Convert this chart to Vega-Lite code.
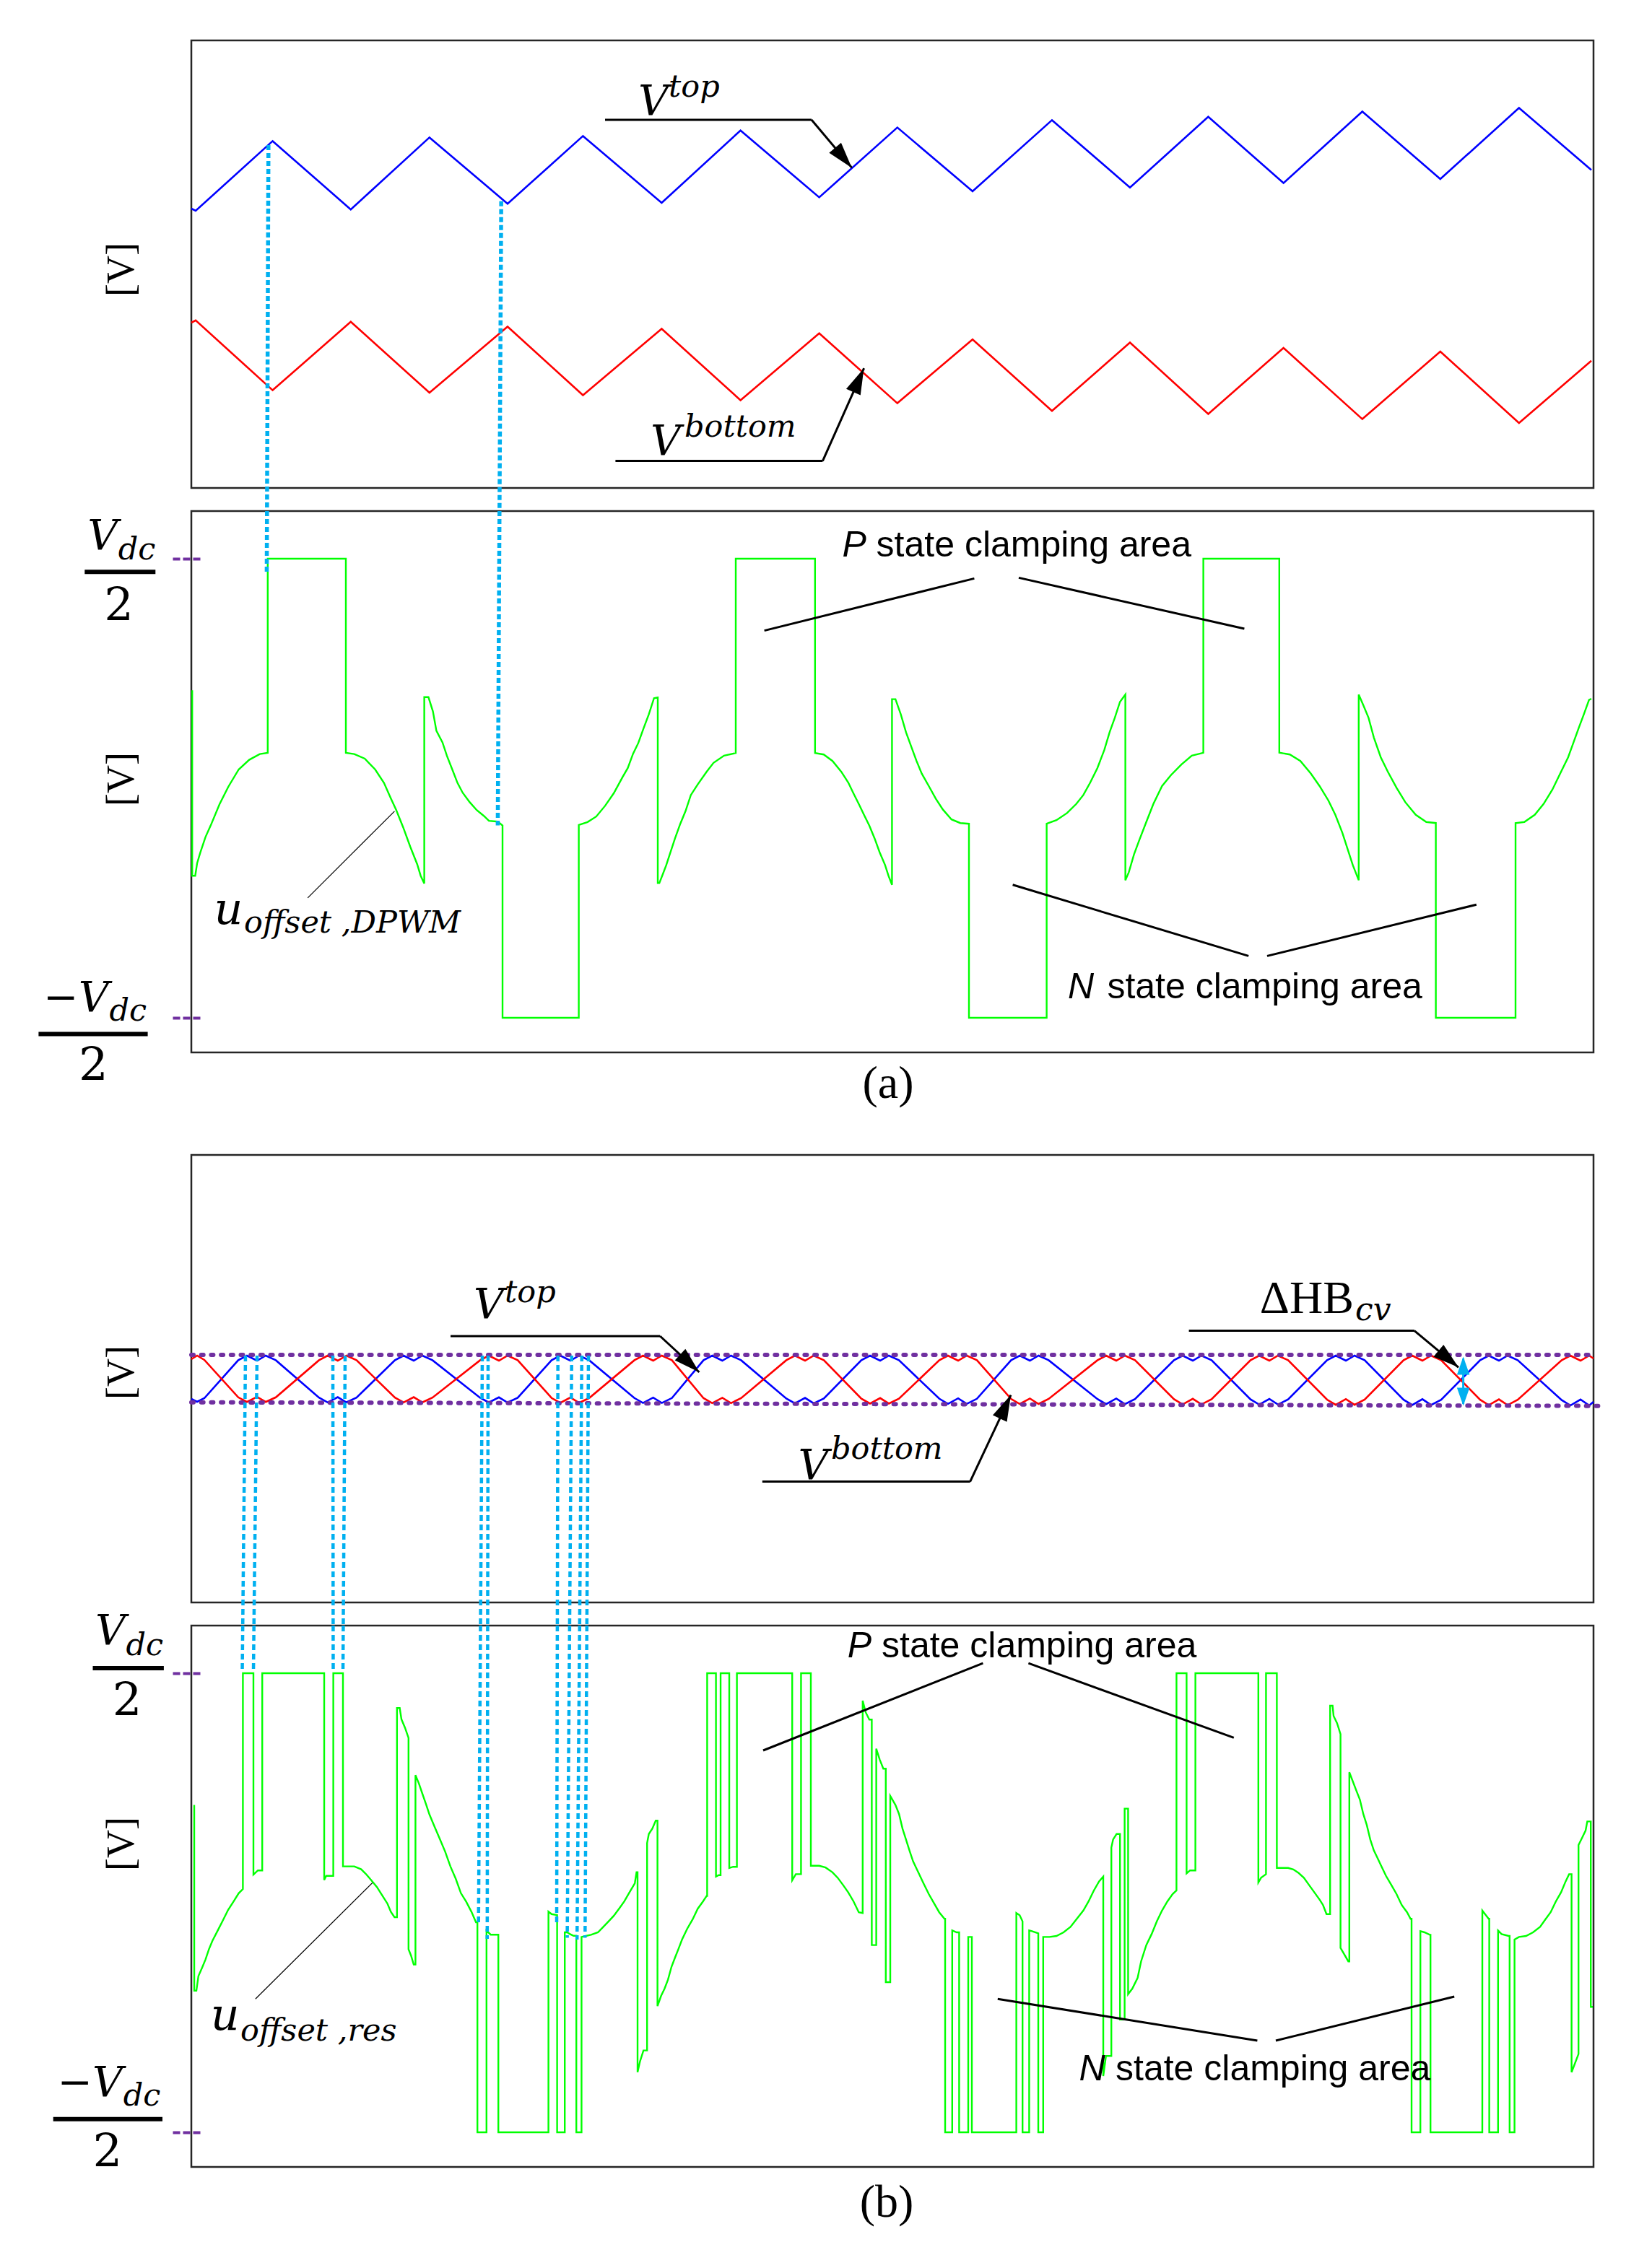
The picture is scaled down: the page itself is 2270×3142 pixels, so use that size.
{
"$schema": "https://vega.github.io/schema/vega-lite/v6.json",
"background": "white",
"padding": {"left": 49, "top": 54, "right": 10, "bottom": 10},
"config": {"view": {"stroke": "#262626", "strokeWidth": 2.5}, "axis": {"grid": false}, "text": {"color": "#000"}},
"spacing": 32,
"bounds": "flush",
"vconcat": [
{
"width": 1942, "height": 620,
"encoding": {
"x": {"field": "t", "type": "quantitative", "scale": {"domain": [0, 971], "nice": false, "zero": false}, "axis": null},
"y": {"field": "v", "type": "quantitative", "scale": {"domain": [-155, 155], "nice": false, "zero": false},
"axis": {"title": "[V]", "ticks": false, "labels": false, "domain": false, "titleX": -97, "titleY": 317, "titleAngle": -90, "titleAlign": "center", "titleBaseline": "middle", "titleFont": "Liberation Serif", "titleFontSize": 54, "titleFontWeight": "normal", "titleColor": "#000"}}
},
"layer": [
{"data": {"values": [
{"t":0,"v":38.5,"s":"top"},{"t":3,"v":37,"s":"top"},{"t":56.3,"v":85.3,"s":"top"},{"t":110.4,"v":37.9,"s":"top"},{"t":164.9,"v":87.8,"s":"top"},{"t":219,"v":41.9,"s":"top"},{"t":271.2,"v":88.8,"s":"top"},{"t":325.7,"v":42.5,"s":"top"},{"t":380.3,"v":92.6,"s":"top"},{"t":434.8,"v":46.3,"s":"top"},{"t":488.9,"v":94.7,"s":"top"},{"t":541,"v":50.5,"s":"top"},{"t":596,"v":99.8,"s":"top"},{"t":650,"v":53.1,"s":"top"},{"t":704.2,"v":102.1,"s":"top"},{"t":756.3,"v":56.2,"s":"top"},{"t":810.9,"v":105.7,"s":"top"},{"t":864.9,"v":59,"s":"top"},{"t":919.4,"v":108.2,"s":"top"},{"t":969.5,"v":65.3,"s":"top"},
{"t":0,"v":-40.5,"s":"bottom"},{"t":3,"v":-38.9,"s":"bottom"},{"t":56.3,"v":-87.3,"s":"bottom"},{"t":110.4,"v":-39.9,"s":"bottom"},{"t":164.9,"v":-89,"s":"bottom"},{"t":219,"v":-43.3,"s":"bottom"},{"t":271.2,"v":-90.7,"s":"bottom"},{"t":325.7,"v":-44.8,"s":"bottom"},{"t":380.3,"v":-94.2,"s":"bottom"},{"t":434.8,"v":-47.9,"s":"bottom"},{"t":488.9,"v":-96.3,"s":"bottom"},{"t":541,"v":-52.1,"s":"bottom"},{"t":596,"v":-101.6,"s":"bottom"},{"t":650,"v":-54.3,"s":"bottom"},{"t":704.2,"v":-103.7,"s":"bottom"},{"t":756.3,"v":-58,"s":"bottom"},{"t":810.9,"v":-107.3,"s":"bottom"},{"t":864.9,"v":-60.5,"s":"bottom"},{"t":919.4,"v":-110,"s":"bottom"},{"t":969.5,"v":-66.9,"s":"bottom"}
]},
"mark": {"type": "line", "strokeWidth": 2.6},
"encoding": {"color": {"field": "s", "type": "nominal", "scale": {"domain": ["top", "bottom"], "range": ["#0000FF", "#FF0000"]}, "legend": null}}},
{"data": {"values": [{"t":53.4,"v":82.5,"t2":52.4,"v2":-171},{"t":214.6,"v":43.6,"t2":213.4,"v2":-171}]},
"mark": {"type": "rule", "color": "#00B0F0", "strokeWidth": 5.5, "strokeDash": [7, 4]},
"encoding": {"x2": {"field": "t2"}, "y2": {"field": "v2"}}},
{"data": {"values": [{"t":286.5,"v":100,"t2":429.5,"v2":100},{"t":429.5,"v":100,"t2":457.4,"v2":66.8},{"t":293.7,"v":-136.3,"t2":437.2,"v2":-136.3},{"t":437.2,"v":-136.3,"t2":465.8,"v2":-72.1}]},
"mark": {"type": "rule", "color": "#000", "strokeWidth": 3},
"encoding": {"x2": {"field": "t2"}, "y2": {"field": "v2"}}},
{"data": {"values": [{"t":451.6,"v":73.7}]},
"mark": {"type": "point", "shape": "M0,-1L0.6,1L-0.6,1Z", "filled": true, "color": "#000", "opacity": 1, "size": 1296, "angle": 140}},
{"data": {"values": [{"t":462.1,"v":-80.3}]},
"mark": {"type": "point", "shape": "M0,-1L0.6,1L-0.6,1Z", "filled": true, "color": "#000", "opacity": 1, "size": 1296, "angle": 24}},
{"data": {"values": [{"t":309.5,"v":103.6,"label":"V"},{"t":318,"v":-132.1,"label":"V"}]},
"mark": {"type": "text", "font": "DejaVu Serif", "fontStyle": "italic", "fontSize": 58, "align": "left", "baseline": "alphabetic"},
"encoding": {"text": {"field": "label"}}},
{"data": {"values": [{"t":330.5,"v":116.2,"label":"top"},{"t":341.5,"v":-119.5,"label":"bottom"}]},
"mark": {"type": "text", "font": "DejaVu Serif", "fontStyle": "italic", "fontSize": 43, "align": "left", "baseline": "alphabetic"},
"encoding": {"text": {"field": "label"}}}
]
},
{
"width": 1942, "height": 750,
"encoding": {
"x": {"field": "t", "type": "quantitative", "scale": {"domain": [0, 971], "nice": false, "zero": false}, "axis": null},
"y": {"field": "v", "type": "quantitative", "scale": {"domain": [-183, 192], "nice": false, "zero": false},
"axis": {"title": "[V]", "values": [-159, 159], "labels": false, "domain": false, "ticks": true, "tickSize": 38, "tickWidth": 4, "tickColor": "#7030A0", "tickDash": [10, 4], "offset": -12, "titleX": -109, "titleY": 371, "titleAngle": -90, "titleAlign": "center", "titleBaseline": "middle", "titleFont": "Liberation Serif", "titleFontSize": 54, "titleFontWeight": "normal", "titleColor": "#000"}}
},
"layer": [
{"data": {"values": [
{"t":0.6,"v":67.9},{"t":0.61,"v":-60.6},{"t":2.7,"v":-60.6},{"t":4,"v":-52},{"t":6.2,"v":-44.6},{"t":9.8,"v":-33.8},{"t":13.4,"v":-25.8},{"t":19.5,"v":-11.1},{"t":25.6,"v":1},{"t":32.8,"v":13},{"t":40.1,"v":19.7},{"t":47.4,"v":23.7},{"t":52.9,"v":24.5},
{"t":52.91,"v":159},{"t":107,"v":159},{"t":107.01,"v":24.5},{"t":112.8,"v":23.7},{"t":120.1,"v":20.5},{"t":127.3,"v":13},{"t":133.4,"v":3.7},{"t":138.2,"v":-7.1},{"t":141.9,"v":-15.1},{"t":146.7,"v":-27.1},{"t":151.6,"v":-40.5},{"t":156.4,"v":-52.6},{"t":158.8,"v":-60.6},{"t":161.3,"v":-66},
{"t":161.31,"v":63.1},{"t":164.2,"v":63.1},{"t":167.3,"v":53.2},{"t":169.7,"v":39.8},{"t":173.9,"v":31.8},{"t":177,"v":22.4},{"t":180.7,"v":13},{"t":184.3,"v":3.7},{"t":187.9,"v":-3.1},{"t":192.8,"v":-9.7},{"t":197.6,"v":-15.1},{"t":202.5,"v":-19.1},{"t":206.1,"v":-22.6},{"t":212.2,"v":-23.1},{"t":215.5,"v":-25.8},
{"t":215.51,"v":-159},{"t":268.3,"v":-159},{"t":268.31,"v":-25.4},{"t":274.4,"v":-23.4},{"t":280.4,"v":-19.6},{"t":286.5,"v":-12.2},{"t":292.5,"v":-3.5},{"t":298.6,"v":7.7},{"t":302.2,"v":13.9},{"t":305.9,"v":23.9},{"t":309.5,"v":31.3},{"t":313.1,"v":41.3},{"t":316.8,"v":51.2},{"t":320.4,"v":62.4},{"t":323,"v":62.9},
{"t":323.01,"v":-65.7},{"t":324.1,"v":-65.7},{"t":326.5,"v":-59.5},{"t":328.9,"v":-53.2},{"t":331.3,"v":-45.8},{"t":335,"v":-34.6},{"t":338.6,"v":-24.6},{"t":342.2,"v":-15.9},{"t":345.9,"v":-4.7},{"t":350.7,"v":2.7},{"t":356.8,"v":11.4},{"t":361.6,"v":17.6},{"t":368.9,"v":22.6},{"t":377,"v":24.4},
{"t":377.01,"v":159},{"t":431.9,"v":159},{"t":431.91,"v":24.4},{"t":437.9,"v":23.4},{"t":444,"v":18.9},{"t":450.1,"v":11.4},{"t":454.9,"v":4},{"t":458.5,"v":-3.5},{"t":462.2,"v":-10.9},{"t":465.8,"v":-18.4},{"t":469.5,"v":-25.9},{"t":473.1,"v":-34.6},{"t":476.7,"v":-44.5},{"t":480.4,"v":-53.2},{"t":482.8,"v":-60.7},{"t":485.2,"v":-66.9},
{"t":485.21,"v":61.7},{"t":487.6,"v":61.7},{"t":491.3,"v":51.2},{"t":494.9,"v":38.8},{"t":498.5,"v":28.9},{"t":502.2,"v":18.9},{"t":505.8,"v":10.2},{"t":510.7,"v":1.5},{"t":515.5,"v":-7.2},{"t":520.4,"v":-14.7},{"t":526.4,"v":-21.6},{"t":532.5,"v":-24.1},{"t":538.5,"v":-24.6},
{"t":538.51,"v":-159},{"t":592.3,"v":-159},{"t":592.31,"v":-24.6},{"t":599.1,"v":-22.1},{"t":606.4,"v":-17.2},{"t":612.8,"v":-10.9},{"t":617.7,"v":-4.7},{"t":622.5,"v":4},{"t":627.4,"v":13.9},{"t":632.2,"v":26.4},{"t":635.9,"v":38.8},{"t":639.5,"v":48.8},{"t":643.1,"v":59.9},{"t":646.8,"v":64.9},
{"t":646.81,"v":-63.7},{"t":649.2,"v":-58.2},{"t":652.8,"v":-45.8},{"t":656.5,"v":-35.8},{"t":661.3,"v":-23.4},{"t":666.2,"v":-10.9},{"t":672.2,"v":1.5},{"t":678.3,"v":9},{"t":685.6,"v":16.4},{"t":692.8,"v":22.6},{"t":700.8,"v":24.6},
{"t":700.81,"v":159},{"t":753.4,"v":159},{"t":753.41,"v":24.6},{"t":760.7,"v":23.4},{"t":768,"v":18.9},{"t":775.2,"v":10.2},{"t":781.3,"v":1.5},{"t":787.4,"v":-8.5},{"t":792.2,"v":-18.4},{"t":797.1,"v":-30.9},{"t":800.7,"v":-42.1},{"t":804.3,"v":-53.2},{"t":808.4,"v":-63.7},
{"t":808.41,"v":64.9},{"t":811.6,"v":57.5},{"t":815.2,"v":48.8},{"t":818.9,"v":35.1},{"t":823.7,"v":21.4},{"t":828.6,"v":11.4},{"t":834.6,"v":0.3},{"t":840.7,"v":-9.7},{"t":847.9,"v":-18.4},{"t":855.2,"v":-23.4},{"t":861.8,"v":-24.1},
{"t":861.81,"v":-159},{"t":917,"v":-159},{"t":917.01,"v":-24.1},{"t":923.1,"v":-23.4},{"t":930.3,"v":-18.4},{"t":936.4,"v":-10.9},{"t":942.5,"v":-1},{"t":948.5,"v":11.4},{"t":953.4,"v":21.4},{"t":957,"v":31.3},{"t":960.6,"v":41.3},{"t":964.3,"v":51.2},{"t":967.9,"v":61.2},{"t":969.5,"v":62}
]},
"mark": {"type": "line", "color": "#00FF00", "strokeWidth": 2.4}},
{"data": {"values": [{"t":52.4,"v":192,"t2":52.2,"v2":148.3},{"t":213.4,"v":192,"t2":212.2,"v2":-25.8}]},
"mark": {"type": "rule", "color": "#00B0F0", "strokeWidth": 5.5, "strokeDash": [7, 4]},
"encoding": {"x2": {"field": "t2"}, "y2": {"field": "v2"}}},
{"data": {"values": [{"t":396.8,"v":109.2,"t2":542.2,"v2":145.3},{"t":573,"v":145.8,"t2":729.2,"v2":110.5},{"t":568.8,"v":-66.9,"t2":732.1,"v2":-116.2},{"t":745,"v":-116.2,"t2":889.9,"v2":-80.6}]},
"mark": {"type": "rule", "color": "#000", "strokeWidth": 3},
"encoding": {"x2": {"field": "t2"}, "y2": {"field": "v2"}}},
{"data": {"values": [{"t":80.6,"v":-75.9,"t2":140.7,"v2":-15.9}]},
"mark": {"type": "rule", "color": "#000", "strokeWidth": 1.2},
"encoding": {"x2": {"field": "t2"}, "y2": {"field": "v2"}}},
{"data": {"values": [{"t":-73.85,"v":149.9,"t2":-24.85,"v2":149.9},{"t":-105.8,"v":-170.2,"t2":-30.2,"v2":-170.2}]},
"mark": {"type": "rule", "color": "#000", "strokeWidth": 6},
"encoding": {"x2": {"field": "t2"}, "y2": {"field": "v2"}}},
{"data": {"values": [{"t":-71.9,"v":165.7,"label":"V"},{"t":-102.45,"v":-154.3,"label":"−V"}]},
"mark": {"type": "text", "font": "DejaVu Serif", "fontStyle": "italic", "fontSize": 58, "align": "left", "baseline": "alphabetic"},
"encoding": {"text": {"field": "label"}}},
{"data": {"values": [{"t":15.8,"v":-94.1,"label":"u"}]},
"mark": {"type": "text", "font": "DejaVu Serif", "fontStyle": "italic", "fontSize": 62, "align": "left", "baseline": "alphabetic"},
"encoding": {"text": {"field": "label"}}},
{"data": {"values": [{"t":-50.6,"v":158.5,"label":"dc"},{"t":-56.8,"v":-161,"label":"dc"},{"t":36.5,"v":-100,"label":"offset ,DPWM"}]},
"mark": {"type": "text", "font": "DejaVu Serif", "fontStyle": "italic", "fontSize": 43, "align": "left", "baseline": "alphabetic"},
"encoding": {"text": {"field": "label"}}},
{"data": {"values": [{"t":-50.2,"v":116.1,"label":"2"},{"t":-67.8,"v":-202.5,"label":"2"}]},
"mark": {"type": "text", "font": "DejaVu Serif", "fontSize": 64, "align": "center", "baseline": "alphabetic"},
"encoding": {"text": {"field": "label"}}},
{"data": {"values": [{"t":450.8,"v":160.7,"label":"P"},{"t":607,"v":-145.3,"label":"N"}]},
"mark": {"type": "text", "font": "Liberation Sans", "fontStyle": "italic", "fontSize": 50, "align": "left", "baseline": "alphabetic"},
"encoding": {"text": {"field": "label"}}},
{"data": {"values": [{"t":474.3,"v":160.7,"label":"state clamping area"},{"t":634.2,"v":-145.3,"label":"state clamping area"}]},
"mark": {"type": "text", "font": "Liberation Sans", "fontSize": 50, "align": "left", "baseline": "alphabetic"},
"encoding": {"text": {"field": "label"}}}
]
},
{
"width": 1942, "height": 78, "view": {"stroke": null},
"data": {"values": [{"t":482.5,"v":0.603,"label":"(a)"}]},
"mark": {"type": "text", "font": "Liberation Serif", "fontSize": 64, "align": "center", "baseline": "alphabetic"},
"encoding": {
"x": {"field": "t", "type": "quantitative", "scale": {"domain": [0, 971], "nice": false, "zero": false}, "axis": null},
"y": {"field": "v", "type": "quantitative", "scale": {"domain": [0, 1], "nice": false, "zero": false}, "axis": null},
"text": {"field": "label"}}
},
{
"width": 1942, "height": 620,
"encoding": {
"x": {"field": "t", "type": "quantitative", "scale": {"domain": [0, 971], "nice": false, "zero": false}, "axis": null},
"y": {"field": "v", "type": "quantitative", "scale": {"domain": [-155, 155], "nice": false, "zero": false},
"axis": {"title": "[V]", "ticks": false, "labels": false, "domain": false, "titleX": -97, "titleY": 301, "titleAngle": -90, "titleAlign": "center", "titleBaseline": "middle", "titleFont": "Liberation Serif", "titleFontSize": 54, "titleFontWeight": "normal", "titleColor": "#000"}}
},
"layer": [
{"data": {"values": [
{"t":0,"v":-14,"s":"top"},{"t":4,"v":-16,"s":"top"},{"t":9,"v":-13.5,"s":"top"},
{"t":32.5,"v":12.8,"s":"top"},{"t":38.5,"v":16,"s":"top"},{"t":45.5,"v":12.5,"s":"top"},{"t":51.5,"v":16,"s":"top"},{"t":58.5,"v":12.8,"s":"top"},
{"t":88.4,"v":-13.1,"s":"top"},{"t":94.4,"v":-16.4,"s":"top"},{"t":101.4,"v":-12.8,"s":"top"},{"t":107.4,"v":-16.4,"s":"top"},{"t":114.4,"v":-13.1,"s":"top"},
{"t":141,"v":12.8,"s":"top"},{"t":147,"v":16,"s":"top"},{"t":154,"v":12.5,"s":"top"},{"t":160,"v":16,"s":"top"},{"t":167,"v":12.8,"s":"top"},
{"t":200,"v":-13.2,"s":"top"},{"t":206,"v":-16.5,"s":"top"},{"t":213,"v":-12.9,"s":"top"},{"t":219,"v":-16.5,"s":"top"},{"t":226,"v":-13.2,"s":"top"},
{"t":249.5,"v":12.8,"s":"top"},{"t":255.5,"v":16,"s":"top"},{"t":262.5,"v":12.5,"s":"top"},{"t":268.5,"v":16,"s":"top"},{"t":275.5,"v":12.8,"s":"top"},
{"t":306.8,"v":-13.4,"s":"top"},{"t":312.8,"v":-16.8,"s":"top"},{"t":319.8,"v":-13.1,"s":"top"},{"t":325.8,"v":-16.8,"s":"top"},{"t":332.8,"v":-13.4,"s":"top"},
{"t":354.7,"v":12.8,"s":"top"},{"t":360.7,"v":16,"s":"top"},{"t":367.7,"v":12.5,"s":"top"},{"t":373.7,"v":16,"s":"top"},{"t":380.7,"v":12.8,"s":"top"},
{"t":412,"v":-13.7,"s":"top"},{"t":418,"v":-17.1,"s":"top"},{"t":425,"v":-13.3,"s":"top"},{"t":431,"v":-17.1,"s":"top"},{"t":438,"v":-13.7,"s":"top"},
{"t":464,"v":12.8,"s":"top"},{"t":470,"v":16,"s":"top"},{"t":477,"v":12.5,"s":"top"},{"t":483,"v":16,"s":"top"},{"t":490,"v":12.8,"s":"top"},
{"t":518,"v":-13.9,"s":"top"},{"t":524,"v":-17.4,"s":"top"},{"t":531,"v":-13.6,"s":"top"},{"t":537,"v":-17.4,"s":"top"},{"t":544,"v":-13.9,"s":"top"},
{"t":567.7,"v":12.8,"s":"top"},{"t":573.7,"v":16,"s":"top"},{"t":580.7,"v":12.5,"s":"top"},{"t":586.7,"v":16,"s":"top"},{"t":593.7,"v":12.8,"s":"top"},
{"t":627.5,"v":-14.1,"s":"top"},{"t":633.5,"v":-17.6,"s":"top"},{"t":640.5,"v":-13.7,"s":"top"},{"t":646.5,"v":-17.6,"s":"top"},{"t":653.5,"v":-14.1,"s":"top"},
{"t":680.5,"v":12.8,"s":"top"},{"t":686.5,"v":16,"s":"top"},{"t":693.5,"v":12.5,"s":"top"},{"t":699.5,"v":16,"s":"top"},{"t":706.5,"v":12.8,"s":"top"},
{"t":733.5,"v":-14.3,"s":"top"},{"t":739.5,"v":-17.9,"s":"top"},{"t":746.5,"v":-14,"s":"top"},{"t":752.5,"v":-17.9,"s":"top"},{"t":759.5,"v":-14.3,"s":"top"},
{"t":786.5,"v":12.8,"s":"top"},{"t":792.5,"v":16,"s":"top"},{"t":799.5,"v":12.5,"s":"top"},{"t":805.5,"v":16,"s":"top"},{"t":812.5,"v":12.8,"s":"top"},
{"t":839.5,"v":-14.6,"s":"top"},{"t":845.5,"v":-18.2,"s":"top"},{"t":852.5,"v":-14.2,"s":"top"},{"t":858.5,"v":-18.2,"s":"top"},{"t":865.5,"v":-14.6,"s":"top"},
{"t":892.5,"v":12.8,"s":"top"},{"t":898.5,"v":16,"s":"top"},{"t":905.5,"v":12.5,"s":"top"},{"t":911.5,"v":16,"s":"top"},{"t":918.5,"v":12.8,"s":"top"},
{"t":949,"v":-14.8,"s":"top"},{"t":955,"v":-18.5,"s":"top"},{"t":962,"v":-14.4,"s":"top"},{"t":968,"v":-18.5,"s":"top"},{"t":971,"v":-16,"s":"top"},
{"t":0,"v":13.5,"s":"bottom"},{"t":4,"v":16,"s":"bottom"},{"t":9,"v":13,"s":"bottom"},
{"t":32.5,"v":-12.9,"s":"bottom"},{"t":38.5,"v":-16.1,"s":"bottom"},{"t":45.5,"v":-12.6,"s":"bottom"},{"t":51.5,"v":-16.1,"s":"bottom"},{"t":58.5,"v":-12.9,"s":"bottom"},
{"t":88.4,"v":12.8,"s":"bottom"},{"t":94.4,"v":16,"s":"bottom"},{"t":101.4,"v":12.5,"s":"bottom"},{"t":107.4,"v":16,"s":"bottom"},{"t":114.4,"v":12.8,"s":"bottom"},
{"t":141,"v":-13.1,"s":"bottom"},{"t":147,"v":-16.4,"s":"bottom"},{"t":154,"v":-12.8,"s":"bottom"},{"t":160,"v":-16.4,"s":"bottom"},{"t":167,"v":-13.1,"s":"bottom"},
{"t":200,"v":12.8,"s":"bottom"},{"t":206,"v":16,"s":"bottom"},{"t":213,"v":12.5,"s":"bottom"},{"t":219,"v":16,"s":"bottom"},{"t":226,"v":12.8,"s":"bottom"},
{"t":249.5,"v":-13.4,"s":"bottom"},{"t":255.5,"v":-16.7,"s":"bottom"},{"t":262.5,"v":-13,"s":"bottom"},{"t":268.5,"v":-16.7,"s":"bottom"},{"t":275.5,"v":-13.4,"s":"bottom"},
{"t":306.8,"v":12.8,"s":"bottom"},{"t":312.8,"v":16,"s":"bottom"},{"t":319.8,"v":12.5,"s":"bottom"},{"t":325.8,"v":16,"s":"bottom"},{"t":332.8,"v":12.8,"s":"bottom"},
{"t":354.7,"v":-13.5,"s":"bottom"},{"t":360.7,"v":-16.9,"s":"bottom"},{"t":367.7,"v":-13.2,"s":"bottom"},{"t":373.7,"v":-16.9,"s":"bottom"},{"t":380.7,"v":-13.5,"s":"bottom"},
{"t":412,"v":12.8,"s":"bottom"},{"t":418,"v":16,"s":"bottom"},{"t":425,"v":12.5,"s":"bottom"},{"t":431,"v":16,"s":"bottom"},{"t":438,"v":12.8,"s":"bottom"},
{"t":464,"v":-13.8,"s":"bottom"},{"t":470,"v":-17.2,"s":"bottom"},{"t":477,"v":-13.4,"s":"bottom"},{"t":483,"v":-17.2,"s":"bottom"},{"t":490,"v":-13.8,"s":"bottom"},
{"t":518,"v":12.8,"s":"bottom"},{"t":524,"v":16,"s":"bottom"},{"t":531,"v":12.5,"s":"bottom"},{"t":537,"v":16,"s":"bottom"},{"t":544,"v":12.8,"s":"bottom"},
{"t":567.7,"v":-14,"s":"bottom"},{"t":573.7,"v":-17.5,"s":"bottom"},{"t":580.7,"v":-13.7,"s":"bottom"},{"t":586.7,"v":-17.5,"s":"bottom"},{"t":593.7,"v":-14,"s":"bottom"},
{"t":627.5,"v":12.8,"s":"bottom"},{"t":633.5,"v":16,"s":"bottom"},{"t":640.5,"v":12.5,"s":"bottom"},{"t":646.5,"v":16,"s":"bottom"},{"t":653.5,"v":12.8,"s":"bottom"},
{"t":680.5,"v":-14.2,"s":"bottom"},{"t":686.5,"v":-17.8,"s":"bottom"},{"t":693.5,"v":-13.9,"s":"bottom"},{"t":699.5,"v":-17.8,"s":"bottom"},{"t":706.5,"v":-14.2,"s":"bottom"},
{"t":733.5,"v":12.8,"s":"bottom"},{"t":739.5,"v":16,"s":"bottom"},{"t":746.5,"v":12.5,"s":"bottom"},{"t":752.5,"v":16,"s":"bottom"},{"t":759.5,"v":12.8,"s":"bottom"},
{"t":786.5,"v":-14.5,"s":"bottom"},{"t":792.5,"v":-18.1,"s":"bottom"},{"t":799.5,"v":-14.1,"s":"bottom"},{"t":805.5,"v":-18.1,"s":"bottom"},{"t":812.5,"v":-14.5,"s":"bottom"},
{"t":839.5,"v":12.8,"s":"bottom"},{"t":845.5,"v":16,"s":"bottom"},{"t":852.5,"v":12.5,"s":"bottom"},{"t":858.5,"v":16,"s":"bottom"},{"t":865.5,"v":12.8,"s":"bottom"},
{"t":892.5,"v":-14.6,"s":"bottom"},{"t":898.5,"v":-18.3,"s":"bottom"},{"t":905.5,"v":-14.3,"s":"bottom"},{"t":911.5,"v":-18.3,"s":"bottom"},{"t":918.5,"v":-14.6,"s":"bottom"},
{"t":949,"v":12.8,"s":"bottom"},{"t":955,"v":16,"s":"bottom"},{"t":962,"v":12.5,"s":"bottom"},{"t":968,"v":16,"s":"bottom"},{"t":971,"v":14,"s":"bottom"}
]},
"mark": {"type": "line", "strokeWidth": 2.6},
"encoding": {"color": {"field": "s", "type": "nominal", "scale": {"domain": ["top", "bottom"], "range": ["#0000FF", "#FF0000"]}, "legend": null}}},
{"data": {"values": [{"t":0,"v":16.5,"t2":972,"v2":16.5},{"t":0,"v":-16.35,"t2":977,"v2":-18.85}]},
"mark": {"type": "rule", "color": "#7030A0", "strokeWidth": 6, "strokeDash": [3, 10.7], "strokeCap": "round"},
"encoding": {"x2": {"field": "t2"}, "y2": {"field": "v2"}}},
{"data": {"values": [{"t":37.5,"v":16,"t2":35.6,"v2":-171},{"t":45.5,"v":16,"t2":43.35,"v2":-171},{"t":98,"v":16,"t2":98.2,"v2":-171},{"t":106.5,"v":16,"t2":105.2,"v2":-171},{"t":201.5,"v":16,"t2":200.25,"v2":-171},{"t":205.5,"v":16,"t2":205.2,"v2":-171},{"t":253.85,"v":16,"t2":253.45,"v2":-171},{"t":263.4,"v":16,"t2":261.95,"v2":-171},{"t":270.4,"v":16,"t2":268.9,"v2":-171},{"t":275,"v":16,"t2":273.9,"v2":-171}]},
"mark": {"type": "rule", "color": "#00B0F0", "strokeWidth": 4.5, "strokeDash": [8, 5]},
"encoding": {"x2": {"field": "t2"}, "y2": {"field": "v2"}}},
{"data": {"values": [{"t":179.5,"v":29.5,"t2":324.6,"v2":29.5},{"t":324.6,"v":29.5,"t2":351.7,"v2":4.5},{"t":395.4,"v":-71.3,"t2":539.3,"v2":-71.3},{"t":539.3,"v":-71.3,"t2":567.5,"v2":-11.3},{"t":690.8,"v":33.2,"t2":847,"v2":33.2},{"t":847,"v":33.2,"t2":877.5,"v2":7.8}]},
"mark": {"type": "rule", "color": "#000", "strokeWidth": 3},
"encoding": {"x2": {"field": "t2"}, "y2": {"field": "v2"}}},
{"data": {"values": [{"t":345.1,"v":10.6}]},
"mark": {"type": "point", "shape": "M0,-1L0.6,1L-0.6,1Z", "filled": true, "color": "#000", "opacity": 1, "size": 1296, "angle": 132.7}},
{"data": {"values": [{"t":563.7,"v":-19.4}]},
"mark": {"type": "point", "shape": "M0,-1L0.6,1L-0.6,1Z", "filled": true, "color": "#000", "opacity": 1, "size": 1296, "angle": 25.2}},
{"data": {"values": [{"t":870.6,"v":13.6}]},
"mark": {"type": "point", "shape": "M0,-1L0.6,1L-0.6,1Z", "filled": true, "color": "#000", "opacity": 1, "size": 1296, "angle": 129.8}},
{"data": {"values": [{"t":880.8,"v":14,"t2":880.8,"v2":-17.5}]},
"mark": {"type": "rule", "color": "#00B0F0", "strokeWidth": 3},
"encoding": {"x2": {"field": "t2"}, "y2": {"field": "v2"}}},
{"data": {"values": [{"t":880.8,"v":9.05}]},
"mark": {"type": "point", "shape": "M0,-1L0.7,1L-0.7,1Z", "filled": true, "color": "#00B0F0", "opacity": 1, "size": 625, "angle": 0}},
{"data": {"values": [{"t":880.8,"v":-12.55}]},
"mark": {"type": "point", "shape": "M0,-1L0.7,1L-0.7,1Z", "filled": true, "color": "#00B0F0", "opacity": 1, "size": 625, "angle": 180}},
{"data": {"values": [{"t":195.5,"v":42,"label":"V"},{"t":420.3,"v":-69.7,"label":"V"}]},
"mark": {"type": "text", "font": "DejaVu Serif", "fontStyle": "italic", "fontSize": 58, "align": "left", "baseline": "alphabetic"},
"encoding": {"text": {"field": "label"}}},
{"data": {"values": [{"t":217,"v":52.8,"label":"top"},{"t":443,"v":-55.5,"label":"bottom"}]},
"mark": {"type": "text", "font": "DejaVu Serif", "fontStyle": "italic", "fontSize": 43, "align": "left", "baseline": "alphabetic"},
"encoding": {"text": {"field": "label"}}},
{"data": {"values": [{"t":739.9,"v":45.3,"label":"ΔHB"}]},
"mark": {"type": "text", "font": "Liberation Serif", "fontSize": 64, "align": "left", "baseline": "alphabetic"},
"encoding": {"text": {"field": "label"}}},
{"data": {"values": [{"t":806,"v":40.3,"label":"cv"}]},
"mark": {"type": "text", "font": "DejaVu Serif", "fontStyle": "italic", "fontSize": 44, "align": "left", "baseline": "alphabetic"},
"encoding": {"text": {"field": "label"}}}
]
},
{
"width": 1942, "height": 750,
"encoding": {
"x": {"field": "t", "type": "quantitative", "scale": {"domain": [0, 971], "nice": false, "zero": false}, "axis": null},
"y": {"field": "v", "type": "quantitative", "scale": {"domain": [-183, 192], "nice": false, "zero": false},
"axis": {"title": "[V]", "values": [-159, 159], "labels": false, "domain": false, "ticks": true, "tickSize": 38, "tickWidth": 4, "tickColor": "#7030A0", "tickDash": [10, 4], "offset": -12, "titleX": -109, "titleY": 302, "titleAngle": -90, "titleAlign": "center", "titleBaseline": "middle", "titleFont": "Liberation Serif", "titleFontSize": 54, "titleFontWeight": "normal", "titleColor": "#000"}}
},
"layer": [
{"data": {"values": [
{"t":2,"v":67.7},{"t":2.01,"v":-60.9},{"t":3.5,"v":-60.9},{"t":4.9,"v":-50.8},{"t":7.4,"v":-45.1},{"t":9.8,"v":-39.3},{"t":12.2,"v":-32.2},{"t":14.6,"v":-26.4},{"t":18.3,"v":-19.2},{"t":21.9,"v":-12.1},{"t":25.5,"v":-4.9},{"t":29.2,"v":0.8},{"t":32.8,"v":6.6},{"t":35.7,"v":9.5},
{"t":35.71,"v":159},{"t":43,"v":159},{"t":43.01,"v":19.5},{"t":46.1,"v":22.4},{"t":49.1,"v":22.4},
{"t":49.11,"v":159},{"t":92,"v":159},{"t":92.01,"v":15.8},{"t":93.4,"v":18.6},{"t":98.3,"v":18.6},
{"t":98.31,"v":159},{"t":105,"v":159},{"t":105.01,"v":25.2},{"t":112.8,"v":25.2},{"t":117.6,"v":23.2},{"t":121.3,"v":19.5},{"t":124.9,"v":15.2},{"t":128.5,"v":10.9},{"t":132.2,"v":5.1},{"t":135.8,"v":-0.6},{"t":138.2,"v":-6.3},{"t":140.7,"v":-10},{"t":142.4,"v":-10},
{"t":142.41,"v":134.9},{"t":144.3,"v":134.9},{"t":145.5,"v":127.1},{"t":147.9,"v":121.4},{"t":150.4,"v":114.2},
{"t":150.41,"v":-32.2},{"t":152.1,"v":-36.5},{"t":154,"v":-42.8},{"t":155.2,"v":-42.8},
{"t":155.21,"v":88.4},{"t":157.6,"v":82.6},{"t":160,"v":75.5},{"t":162.5,"v":68.3},{"t":164.9,"v":61.1},{"t":168.5,"v":52.5},{"t":172.2,"v":43.9},{"t":175.8,"v":35.3},{"t":179.4,"v":25.2},{"t":183.1,"v":16.6},{"t":186.7,"v":6.6},{"t":190.3,"v":0.8},{"t":194,"v":-6.3},{"t":197.1,"v":-13.5},{"t":198.1,"v":-13.5},
{"t":198.11,"v":-159},{"t":204.4,"v":-159},{"t":204.41,"v":-19.3},{"t":207.3,"v":-22.1},{"t":212.6,"v":-22.1},
{"t":212.61,"v":-159},{"t":247.3,"v":-159},{"t":247.31,"v":-6.1},{"t":249.5,"v":-7.9},{"t":253.3,"v":-8.5},
{"t":253.31,"v":-159},{"t":258.6,"v":-159},{"t":258.61,"v":-20.5},{"t":260.3,"v":-20.5},{"t":262.2,"v":-21.7},{"t":264.7,"v":-22.9},{"t":266.6,"v":-22.9},
{"t":266.61,"v":-159},{"t":270.2,"v":-159},{"t":270.21,"v":-23.7},{"t":273.1,"v":-23},{"t":276.8,"v":-22.2},{"t":281.6,"v":-20.5},{"t":285.3,"v":-16.7},{"t":288.9,"v":-12.9},{"t":292.5,"v":-9.1},{"t":296.2,"v":-4.1},{"t":299.8,"v":0.9},{"t":303.4,"v":7.2},{"t":307.1,"v":13.5},{"t":308.3,"v":21.1},{"t":309,"v":21.1},
{"t":309.01,"v":-117.4},{"t":310.7,"v":-109.9},{"t":313.1,"v":-102.3},{"t":315.6,"v":-102.3},
{"t":315.61,"v":41.3},{"t":316.8,"v":47.6},{"t":319.2,"v":51.3},{"t":321.6,"v":56.9},{"t":322.8,"v":56.9},
{"t":322.81,"v":-71.6},{"t":325.3,"v":-64.5},{"t":327.7,"v":-59.5},{"t":330.1,"v":-53.2},{"t":332.5,"v":-44.4},{"t":334.9,"v":-38.1},{"t":337.4,"v":-31.8},{"t":339.8,"v":-25.5},{"t":343.4,"v":-18},{"t":347.1,"v":-11.6},{"t":350.7,"v":-4.1},{"t":354.3,"v":0.9},{"t":356.8,"v":4.7},{"t":357.2,"v":4.7},
{"t":357.21,"v":159},{"t":363.3,"v":159},{"t":363.31,"v":18.1},{"t":365.2,"v":19.1},{"t":366.5,"v":19.1},
{"t":366.51,"v":159},{"t":372.5,"v":159},{"t":372.51,"v":24.1},{"t":375.2,"v":24.9},{"t":377.8,"v":24.9},
{"t":377.81,"v":159},{"t":416.1,"v":159},{"t":416.11,"v":15.6},{"t":418.6,"v":19.8},{"t":422.2,"v":19.8},
{"t":422.21,"v":159},{"t":429,"v":159},{"t":429.01,"v":25.6},{"t":434.8,"v":25.6},{"t":439.2,"v":24.4},{"t":444,"v":21.1},{"t":447.6,"v":17.3},{"t":451.3,"v":12.3},{"t":454.9,"v":7.2},{"t":458.6,"v":0.9},{"t":462.2,"v":-6.6},{"t":464.9,"v":-7.1},
{"t":464.91,"v":140},{"t":467,"v":131.9},{"t":469.5,"v":126.9},{"t":471.2,"v":126.9},
{"t":471.21,"v":-29.3},{"t":474.3,"v":-29.3},
{"t":474.31,"v":106.7},{"t":476.7,"v":99.2},{"t":479.2,"v":92.9},{"t":480.9,"v":92.9},
{"t":480.91,"v":-55},{"t":484,"v":-55},
{"t":484.01,"v":74},{"t":487.6,"v":67.7},{"t":490.1,"v":61.4},{"t":492.5,"v":51.3},{"t":494.9,"v":43.8},{"t":497.3,"v":36.2},{"t":499.8,"v":28.7},{"t":503.4,"v":21.1},{"t":507,"v":13.5},{"t":510.7,"v":6},{"t":514.3,"v":-0.3},{"t":517.9,"v":-6.6},{"t":521.6,"v":-11.1},{"t":522,"v":-11.1},
{"t":522.01,"v":-159},{"t":526.9,"v":-159},{"t":526.91,"v":-19.2},{"t":530,"v":-20.5},{"t":531.7,"v":-20.5},
{"t":531.71,"v":-159},{"t":538,"v":-159},{"t":538.01,"v":-23.7},{"t":540.5,"v":-23.7},
{"t":540.51,"v":-159},{"t":571.3,"v":-159},{"t":571.31,"v":-7.1},{"t":573.6,"v":-8.6},{"t":575.6,"v":-12.9},
{"t":575.61,"v":-159},{"t":580.2,"v":-159},{"t":580.21,"v":-19.2},{"t":582.1,"v":-19.7},{"t":586.5,"v":-21.2},
{"t":586.51,"v":-159},{"t":589.9,"v":-159},{"t":589.91,"v":-23.7},{"t":594.3,"v":-23.7},{"t":599.1,"v":-23},{"t":604,"v":-20.5},{"t":608.8,"v":-16.7},{"t":612.8,"v":-11.6},{"t":617.7,"v":-5.4},{"t":621.3,"v":0.9},{"t":625,"v":8.5},{"t":628.6,"v":14.8},{"t":631.5,"v":18.1},
{"t":631.51,"v":-120},{"t":633.4,"v":-106.1},{"t":637.1,"v":-106.1},
{"t":637.11,"v":38.2},{"t":638.3,"v":43.8},{"t":640.7,"v":47.6},{"t":643.1,"v":47.6},
{"t":643.11,"v":-80.9},{"t":646.3,"v":-80.9},
{"t":646.31,"v":65.2},{"t":648.7,"v":65.2},
{"t":648.71,"v":-63.3},{"t":651.6,"v":-59.5},{"t":655.3,"v":-52},{"t":657.7,"v":-40.6},{"t":661.3,"v":-29.3},{"t":665,"v":-21.7},{"t":668.6,"v":-12.9},{"t":672.2,"v":-5.4},{"t":675.9,"v":0.9},{"t":679.5,"v":6},{"t":682.2,"v":8.5},
{"t":682.21,"v":159},{"t":689.2,"v":159},{"t":689.21,"v":20.3},{"t":691.6,"v":22.4},{"t":695.3,"v":22.4},
{"t":695.31,"v":159},{"t":738.9,"v":159},{"t":738.91,"v":14.1},{"t":740.8,"v":17.3},{"t":744.2,"v":19.8},
{"t":744.21,"v":159},{"t":751.7,"v":159},{"t":751.71,"v":24.1},{"t":759.5,"v":24.1},{"t":763.1,"v":23.1},{"t":766.8,"v":20.6},{"t":770.4,"v":17.3},{"t":774,"v":12.3},{"t":777.7,"v":7.2},{"t":781.3,"v":2.2},{"t":783.7,"v":-1.6},{"t":786.1,"v":-7.9},{"t":788.6,"v":-7.9},
{"t":788.61,"v":136.5},{"t":790.3,"v":136.5},{"t":791,"v":129.4},{"t":793.4,"v":124.4},{"t":795.8,"v":116.8},
{"t":795.81,"v":-31.3},{"t":798.3,"v":-35.6},{"t":801.2,"v":-40.6},{"t":801.9,"v":-40.6},
{"t":801.91,"v":90.4},{"t":804.3,"v":84.1},{"t":806.7,"v":77.8},{"t":809.2,"v":71.5},{"t":811.6,"v":61.4},{"t":814,"v":53.8},{"t":816.4,"v":43.8},{"t":818.9,"v":36.2},{"t":821.3,"v":31.2},{"t":823.7,"v":26.1},{"t":827.3,"v":18.6},{"t":831,"v":12.3},{"t":834.6,"v":6},{"t":838.2,"v":-1.6},{"t":841.9,"v":-6.6},{"t":844.3,"v":-11.1},{"t":845,"v":-11.1},
{"t":845.01,"v":-159},{"t":851.1,"v":-159},{"t":851.11,"v":-19.7},{"t":854,"v":-20.5},{"t":857.6,"v":-22.2},{"t":858.1,"v":-22.2},
{"t":858.11,"v":-159},{"t":894,"v":-159},{"t":894.01,"v":-5.4},{"t":895.9,"v":-7.9},{"t":898.4,"v":-11.1},{"t":898.8,"v":-11.1},
{"t":898.81,"v":-159},{"t":904.9,"v":-159},{"t":904.91,"v":-19.2},{"t":907.3,"v":-21.7},{"t":912.2,"v":-23},{"t":912.9,"v":-23},
{"t":912.91,"v":-159},{"t":916.3,"v":-159},{"t":916.31,"v":-25.5},{"t":919.4,"v":-23.7},{"t":924.3,"v":-23},{"t":929.1,"v":-20.5},{"t":934,"v":-16.7},{"t":937.6,"v":-11.6},{"t":941.3,"v":-6.6},{"t":944.9,"v":0.9},{"t":948.5,"v":7.2},{"t":951.7,"v":14.8},{"t":954.1,"v":19.8},{"t":955.8,"v":19.8},
{"t":955.81,"v":-117.4},{"t":958.2,"v":-111.1},{"t":960.6,"v":-104.8},
{"t":960.61,"v":40},{"t":963.1,"v":45},{"t":965.5,"v":50},{"t":966.7,"v":56.3},{"t":969.1,"v":56.3},
{"t":969.11,"v":-72.1},{"t":970.5,"v":-72.1}
]},
"mark": {"type": "line", "color": "#00FF00", "strokeWidth": 2.4}},
{"data": {"values": [{"t":35.6,"v":192,"t2":35.25,"v2":159.5},{"t":43.35,"v":192,"t2":43,"v2":159.5},{"t":98.2,"v":192,"t2":98.25,"v2":159.5},{"t":105.2,"v":192,"t2":105,"v2":159.5},{"t":200.25,"v":192,"t2":198.85,"v2":-15},{"t":205.2,"v":192,"t2":204.9,"v2":-25},{"t":253.45,"v":192,"t2":253,"v2":-14},{"t":261.95,"v":192,"t2":260.3,"v2":-24.25},{"t":268.9,"v":192,"t2":267.1,"v2":-25.5},{"t":273.9,"v":192,"t2":272.65,"v2":-24.25}]},
"mark": {"type": "rule", "color": "#00B0F0", "strokeWidth": 4.5, "strokeDash": [8, 5]},
"encoding": {"x2": {"field": "t2"}, "y2": {"field": "v2"}}},
{"data": {"values": [{"t":396,"v":105.5,"t2":548.2,"v2":165.9},{"t":579.7,"v":165.9,"t2":721.9,"v2":114.3},{"t":558.4,"v":-66.6,"t2":738.2,"v2":-95.5},{"t":751,"v":-95.5,"t2":874.6,"v2":-65}]},
"mark": {"type": "rule", "color": "#000", "strokeWidth": 3},
"encoding": {"x2": {"field": "t2"}, "y2": {"field": "v2"}}},
{"data": {"values": [{"t":44.4,"v":-66.6,"t2":125.4,"v2":13.8}]},
"mark": {"type": "rule", "color": "#000", "strokeWidth": 1.2},
"encoding": {"x2": {"field": "t2"}, "y2": {"field": "v2"}}},
{"data": {"values": [{"t":-68.25,"v":162.5,"t2":-19.05,"v2":162.5},{"t":-95.65,"v":-149.9,"t2":-20,"v2":-149.9}]},
"mark": {"type": "rule", "color": "#000", "strokeWidth": 6},
"encoding": {"x2": {"field": "t2"}, "y2": {"field": "v2"}}},
{"data": {"values": [{"t":-66.55,"v":178.8,"label":"V"},{"t":-92.75,"v":-134.1,"label":"−V"}]},
"mark": {"type": "text", "font": "DejaVu Serif", "fontStyle": "italic", "fontSize": 58, "align": "left", "baseline": "alphabetic"},
"encoding": {"text": {"field": "label"}}},
{"data": {"values": [{"t":13.4,"v":-88.1,"label":"u"}]},
"mark": {"type": "text", "font": "DejaVu Serif", "fontStyle": "italic", "fontSize": 62, "align": "left", "baseline": "alphabetic"},
"encoding": {"text": {"field": "label"}}},
{"data": {"values": [{"t":-45.3,"v":171.6,"label":"dc"},{"t":-47.1,"v":-140.4,"label":"dc"},{"t":34,"v":-95.3,"label":"offset ,res"}]},
"mark": {"type": "text", "font": "DejaVu Serif", "fontStyle": "italic", "fontSize": 43, "align": "left", "baseline": "alphabetic"},
"encoding": {"text": {"field": "label"}}},
{"data": {"values": [{"t":-44.4,"v":129.4,"label":"2"},{"t":-58.1,"v":-182.9,"label":"2"}]},
"mark": {"type": "text", "font": "DejaVu Serif", "fontSize": 64, "align": "center", "baseline": "alphabetic"},
"encoding": {"text": {"field": "label"}}},
{"data": {"values": [{"t":454.4,"v":170.2,"label":"P"},{"t":614.8,"v":-123,"label":"N"}]},
"mark": {"type": "text", "font": "Liberation Sans", "fontStyle": "italic", "fontSize": 50, "align": "left", "baseline": "alphabetic"},
"encoding": {"text": {"field": "label"}}},
{"data": {"values": [{"t":478,"v":170.2,"label":"state clamping area"},{"t":640,"v":-123,"label":"state clamping area"}]},
"mark": {"type": "text", "font": "Liberation Sans", "fontSize": 50, "align": "left", "baseline": "alphabetic"},
"encoding": {"text": {"field": "label"}}}
]
},
{
"width": 1942, "height": 80, "view": {"stroke": null},
"data": {"values": [{"t":481.5,"v":0.54,"label":"(b)"}]},
"mark": {"type": "text", "font": "Liberation Serif", "fontSize": 64, "align": "center", "baseline": "alphabetic"},
"encoding": {
"x": {"field": "t", "type": "quantitative", "scale": {"domain": [0, 971], "nice": false, "zero": false}, "axis": null},
"y": {"field": "v", "type": "quantitative", "scale": {"domain": [0, 1], "nice": false, "zero": false}, "axis": null},
"text": {"field": "label"}}
}
]
}
